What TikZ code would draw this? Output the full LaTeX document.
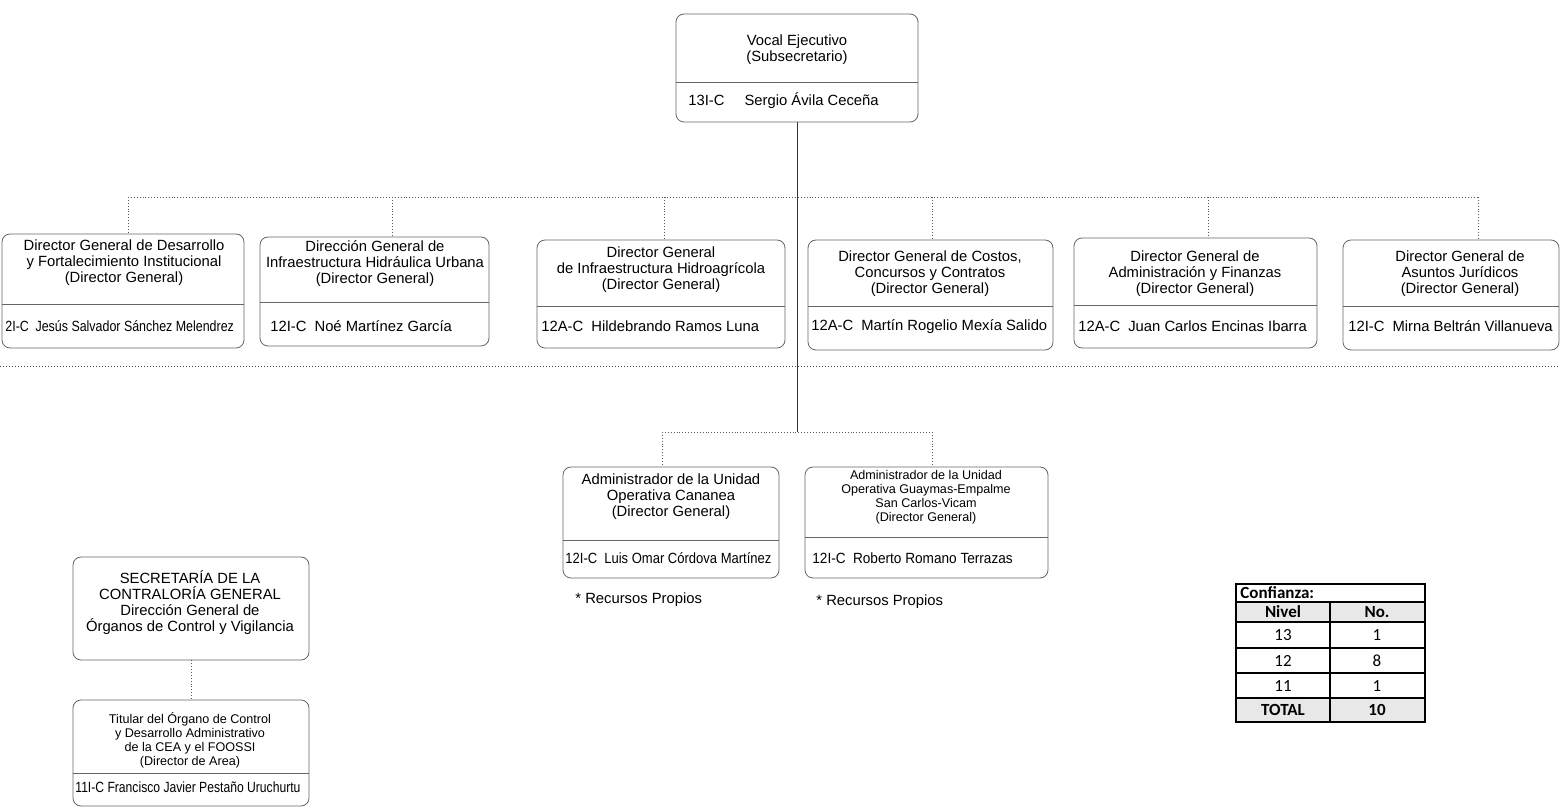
\documentclass[tikz,border=0pt]{standalone}
\usepackage{fontspec}
\setmainfont{Liberation Sans}
\newfontfamily\tablafont{Carlito}
\usetikzlibrary{fit}
\begin{document}
\begin{tikzpicture}[x=0.5pt,y=0.5pt,yscale=-1,xscale=1,
  caja/.style={draw=black!60, line width=0.4pt, rounded corners=4pt, inner sep=0pt},
  linea/.style={draw=black!60, line width=0.4pt},
  conector/.style={draw=black!65, line width=0.45pt, densely dotted},
  tronco/.style={draw=black!80, line width=0.45pt},
  txt/.style={inner sep=0pt, align=center, font=\fontsize{7.4}{8}\selectfont},
  txtc/.style={inner sep=0pt, align=center, font=\fontsize{6.3}{7}\selectfont},
  nom/.style={inner sep=0pt, anchor=west, font=\fontsize{7.4}{8}\selectfont},
  celda/.style={inner sep=0pt, font=\tablafont\fontsize{8.5}{10}\selectfont},
  rejilla/.style={draw=black, line width=0.9pt}
]
\useasboundingbox (0,0) rectangle (1560,807);

%Vocal Ejecutivo
\node[caja, fit={(676,14) (918,122)}] (vocal) {};
\draw[linea] (vocal.west |- 0,82) -- (vocal.east |- 0,82);
% Text Node
\node[txt] (vocalT) at (797,50) {Vocal Ejecutivo\\(Subsecretario)};
% Text Node
\node[nom] (vocalN) at (688,101) {13I-C\hspace{10pt}Sergio Ávila Ceceña};

%Directores generales
\node[caja, fit={(2,234) (244,348)}] (d1) {};
\draw[linea] (d1.west |- 0,304) -- (d1.east |- 0,304);
\node[txt] (d1T) at (124,263) {Director General de Desarrollo\\y Fortalecimiento Institucional\\(Director General)};
\node[nom] (d1N) at (5,326) {\scalebox{0.84}[1]{2I-C\hspace{4pt}Jesús Salvador Sánchez Melendrez}};

\node[caja, fit={(260,237) (489,346)}] (d2) {};
\draw[linea] (d2.west |- 0,302) -- (d2.east |- 0,302);
\node[txt] (d2T) at (375,264) {Dirección General de\\Infraestructura Hidráulica Urbana\\(Director General)};
\node[nom] (d2N) at (270,326) {12I-C\hspace{4pt}Noé Martínez García};

\node[caja, fit={(537,240) (785,348)}] (d3) {};
\draw[linea] (d3.west |- 0,306) -- (d3.east |- 0,306);
\node[txt] (d3T) at (661,270) {Director General\\de Infraestructura Hidroagrícola\\(Director General)};
\node[nom] (d3N) at (541,326) {12A-C\hspace{4pt}Hildebrando Ramos Luna};

\node[caja, fit={(808,240) (1053,350)}] (d4) {};
\draw[linea] (d4.west |- 0,306) -- (d4.east |- 0,306);
\node[txt] (d4T) at (930,274) {Director General de Costos,\\Concursos y Contratos\\(Director General)};
\node[nom] (d4N) at (811,327) {12A-C\hspace{4pt}Martín Rogelio Mexía Salido};

\node[caja, fit={(1074,238) (1317,348)}] (d5) {};
\draw[linea] (d5.west |- 0,305) -- (d5.east |- 0,305);
\node[txt] (d5T) at (1195,274) {Director General de\\Administración y Finanzas\\(Director General)};
\node[nom] (d5N) at (1078,326) {12A-C\hspace{4pt}Juan Carlos Encinas Ibarra};

\node[caja, fit={(1343,240) (1559,350)}] (d6) {};
\draw[linea] (d6.west |- 0,306) -- (d6.east |- 0,306);
\node[txt] (d6T) at (1460,274) {Director General de\\Asuntos Jurídicos\\(Director General)};
\node[nom] (d6N) at (1348,326) {12I-C\hspace{4pt}Mirna Beltrán Villanueva};

%Bus superior
\coordinate (j1) at (128,197);
\coordinate (j2) at (392,197);
\coordinate (j3) at (664,197);
\coordinate (j4) at (932,197);
\coordinate (j5) at (1208,197);
\coordinate (j6) at (1478,197);
\draw[conector] (j1) -- (j6);
\draw[conector] (j1) -- (j1 |- d1.north);
\draw[conector] (j2) -- (j2 |- d2.north);
\draw[conector] (j3) -- (j3 |- d3.north);
\draw[conector] (j4) -- (j4 |- d4.north);
\draw[conector] (j5) -- (j5 |- d5.north);
\draw[conector] (j6) -- (j6 |- d6.north);

%Separador
\coordinate (s1) at (0,367);
\coordinate (s2) at (1560,367);
\draw[black!75, line width=0.5pt, densely dotted] (s1) -- (s2);

%Unidades operativas
\coordinate (k1) at (662,432);
\coordinate (k2) at (932,432);
\draw[tronco] (vocal.south) -- (vocal.south |- k1);
\draw[conector] (k1) -- (k2);

\node[caja, fit={(563,467) (779,578)}] (u1) {};
\draw[linea] (u1.west |- 0,540) -- (u1.east |- 0,540);
\node[txt] (u1T) at (671,497) {Administrador de la Unidad\\Operativa Cananea\\(Director General)};
\node[nom] (u1N) at (565,558) {\scalebox{0.88}[1]{12I-C\hspace{4pt}Luis Omar Córdova Martínez}};

\node[caja, fit={(805,467) (1048,578)}] (u2) {};
\draw[linea] (u2.west |- 0,537) -- (u2.east |- 0,537);
\node[txtc] (u2T) at (926,497) {Administrador de la Unidad\\Operativa Guaymas-Empalme\\San Carlos-Vicam\\(Director General)};
\node[nom] (u2N) at (812,558) {\scalebox{0.92}[1]{12I-C\hspace{4pt}Roberto Romano Terrazas}};

\draw[conector] (k1) -- (k1 |- u1.north);
\draw[conector] (k2) -- (k2 |- u2.north);

% Text Node
\node[nom] (rp1) at (575,600) {* Recursos Propios};
% Text Node
\node[nom] (rp2) at (816,602) {* Recursos Propios};

%Contraloria
\node[caja, fit={(73,557) (309,660)}] (sec) {};
\node[txt] (secT) at (190,603) {SECRETARÍA DE LA\\CONTRALORÍA GENERAL\\Dirección General de\\Órganos de Control y Vigilancia};

\node[caja, fit={(73,700) (309,806)}] (tit) {};
\draw[linea] (tit.west |- 0,773) -- (tit.east |- 0,773);
\node[txtc] (titT) at (190,740) {Titular del Órgano de Control\\y Desarrollo Administrativo\\de la CEA y el FOOSSI\\(Director de Area)};
\node[nom] (titN) at (75,787) {\scalebox{0.82}[1]{11I-C Francisco Javier Pestaño Uruchurtu}};
\draw[conector] (sec.south) -- (tit.north);

%Tabla Confianza
\fill[black!9] (1236,602) rectangle (1425,622);
\fill[black!9] (1236,698) rectangle (1425,722);
\draw[rejilla] (1236,584) rectangle (1425,722);
\draw[rejilla] (1236,602) -- (1425,602);
\draw[rejilla] (1236,622) -- (1425,622);
\draw[rejilla] (1236,648) -- (1425,648);
\draw[rejilla] (1236,673) -- (1425,673);
\draw[rejilla] (1236,698) -- (1425,698);
\draw[rejilla] (1330,602) -- (1330,722);
% Text Node
\node[celda, anchor=west] (tc) at (1240,593) {\bfseries Confianza:};
\node[celda] (tn) at (1283,612) {\bfseries Nivel};
\node[celda] (tno) at (1377,612) {\bfseries No.};
\node[celda] (t13) at (1283,635) {13};
\node[celda] (n13) at (1377,635) {1};
\node[celda] (t12) at (1283,661) {12};
\node[celda] (n12) at (1377,661) {8};
\node[celda] (t11) at (1283,686) {11};
\node[celda] (n11) at (1377,686) {1};
\node[celda] (tt) at (1283,710) {\bfseries TOTAL};
\node[celda] (nt) at (1377,710) {\bfseries 10};

\end{tikzpicture}
\end{document}
